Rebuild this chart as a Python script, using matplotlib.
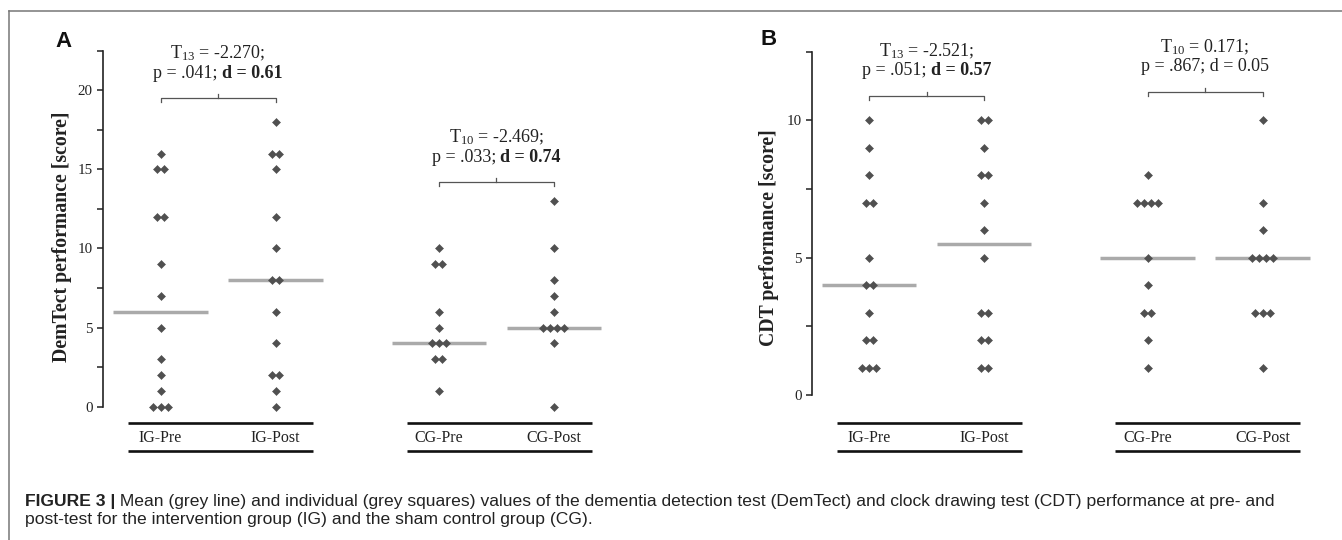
import numpy as np
import matplotlib
matplotlib.use("Agg")
import matplotlib.pyplot as plt
from matplotlib import transforms
from matplotlib.lines import Line2D

plt.rcParams['font.family'] = 'Liberation Serif'
plt.rcParams['mathtext.fontset'] = 'custom'
plt.rcParams['mathtext.rm'] = 'Liberation Serif'
plt.rcParams['mathtext.bf'] = 'Liberation Serif:bold'
plt.rcParams['mathtext.it'] = 'Liberation Serif:italic'

# ---- data (scores) ----
group_labels = ["IG-Pre", "IG-Post", "CG-Pre", "CG-Post"]

dem_ig_pre = [16, 15, 15, 12, 12, 9, 7, 5, 3, 2, 1, 0, 0, 0]
dem_ig_post = [18, 16, 16, 15, 12, 10, 8, 8, 6, 4, 2, 2, 1, 0]
dem_cg_pre = [10, 9, 9, 6, 5, 4, 4, 4, 3, 3, 1]
dem_cg_post = [13, 10, 8, 7, 6, 5, 5, 5, 5, 4, 0]

cdt_ig_pre = [10, 9, 8, 7, 7, 5, 4, 4, 3, 2, 2, 1, 1, 1]
cdt_ig_post = [10, 10, 9, 8, 8, 7, 6, 5, 3, 3, 2, 2, 1, 1]
cdt_cg_pre = [8, 7, 7, 7, 7, 5, 4, 3, 3, 2, 1]
cdt_cg_post = [10, 7, 6, 5, 5, 5, 5, 3, 3, 3, 1]

# (first line, second line regular part, second line bold part)
dem_stats = [("T$_{13}$ = -2.270;", "p = .041; ", "d = 0.61"),
             ("T$_{10}$ = -2.469;", "p = .033; ", "d = 0.74")]
cdt_stats = [("T$_{13}$ = -2.521;", "p = .051; ", "d = 0.57"),
             ("T$_{10}$ = 0.171;", "p = .867; d = 0.05", "")]

caption_bold = "FIGURE 3 |"
caption_1 = (" Mean (grey line) and individual (grey squares) values of the dementia detection test "
             "(DemTect) and clock drawing test (CDT) performance at pre- and")
caption_2 = "post-test for the intervention group (IG) and the sham control group (CG)."

# ---- layout ----
W, H = 1342, 540
POS = [1, 2, 3.42, 4.42]
XPX = 115.0  # pixels per x unit


def fx(px):
    return px / W


def fy(py):
    return 1 - py / H


def dodge(vals, x0, step=0.062):
    vals = np.asarray(vals, float)
    xs = np.empty(len(vals))
    for v in np.unique(vals):
        idx = np.where(vals == v)[0]
        n = len(idx)
        xs[idx] = x0 + (np.arange(n) - (n - 1) / 2) * step
    return xs, vals


fig = plt.figure(figsize=(W / 100, H / 100), dpi=100)
axA = fig.add_axes([fx(103), fy(406.7), 517.5 / W, (406.7 - 50.7) / H])
axB = fig.add_axes([fx(811.7), fy(395), 517.5 / W, (395 - 51.7) / H])

split_lines = []


def panel(ax, groups, ytop, stats, bracket_y):
    ax.set_xlim(0.5, 5.0)
    ax.set_ylim(0, ytop)
    for sp in ['top', 'right', 'bottom']:
        ax.spines[sp].set_visible(False)
    ax.spines['left'].set_linewidth(1.2)
    ax.spines['left'].set_color('#222222')
    ax.set_xticks([])
    ticks = np.arange(0, ytop + 0.01, 2.5)
    ax.set_yticks(ticks)
    ax.set_yticklabels([f"{v:g}" if v % 5 == 0 else "" for v in ticks])
    ax.tick_params(axis='y', length=4.3, width=1.1, labelsize=10.8, pad=3,
                   color='#222222', labelcolor='#222222')
    ax.patch.set_visible(False)

    for x0, vals in zip(POS, groups):
        ax.hlines(np.median(vals), x0 - 0.41, x0 + 0.41, color='#aaaaaa', lw=2.5, zorder=1)
        xs, ys = dodge(vals, x0)
        ax.plot(xs, ys, 'D', ms=3.6, color='#505050', mec='#505050', mew=0.4,
                zorder=2, clip_on=False, ls='none')

    # group bars and labels under the axis
    tr = transforms.blended_transform_factory(ax.transData, fig.transFigure)
    for a, b in [(0, 1), (2, 3)]:
        x1, x2 = POS[a] - 0.28, POS[b] + 0.33
        for yy in (fy(422.7), fy(450.7)):
            ax.plot([x1, x2], [yy, yy], transform=tr, color='#111111', lw=1.9,
                    clip_on=False, solid_capstyle='butt')
    for x0, lab in zip(POS, group_labels):
        ax.text(x0, fy(437.7), lab, transform=tr, ha='center', va='center',
                fontsize=11.5, color='#222222')

    # brackets with test statistics
    pxu = ax.get_position().height * H / ytop
    for (a, b), by, (l1, l2, l2b) in zip([(0, 1), (2, 3)], bracket_y, stats):
        xa, xb = POS[a], POS[b]
        mid = (xa + xb) / 2
        d = 4 / pxu
        ax.plot([xa, xa, xb, xb], [by - d, by, by, by - d], color='#555555', lw=0.9,
                clip_on=False)
        ax.plot([mid, mid], [by, by + d], color='#555555', lw=0.9, clip_on=False)
        ax.text(mid, by + 44.5 / pxu, l1, ha='center', va='center', fontsize=13,
                color='#222222')
        t_reg = ax.text(mid, by + 25 / pxu, l2, ha='left', va='center', fontsize=13,
                        color='#222222')
        t_bold = ax.annotate(l2b, xy=(1, 0), xycoords=t_reg, ha='left', va='bottom',
                             fontsize=13, fontweight='bold', color='#222222')
        split_lines.append((t_reg, t_bold, mid))


panel(axA, [dem_ig_pre, dem_ig_post, dem_cg_pre, dem_cg_post], 22.5, dem_stats, [19.5, 14.2])
panel(axB, [cdt_ig_pre, cdt_ig_post, cdt_cg_pre, cdt_cg_post], 12.5, cdt_stats, [10.9, 11.05])

# centre the two-part lines
renderer = fig.canvas.get_renderer()
for t_reg, t_bold, mid in split_lines:
    w = t_reg.get_window_extent(renderer).width
    if t_bold.get_text():
        w += t_bold.get_window_extent(renderer).width
    t_reg.set_x(mid - w / 2 / XPX)

fig.text(fx(61.7), fy(236.5), "DemTect performance [score]", rotation=90, ha='center',
         va='center', fontsize=14.2, fontweight='bold', color='#222222')
fig.text(fx(769), fy(238), "CDT performance [score]", rotation=90, ha='center',
         va='center', fontsize=14.2, fontweight='bold', color='#222222')

fig.text(fx(55), fy(47), "A", family='Liberation Sans', fontweight='bold', fontsize=16,
         ha='left', va='baseline', color='#111111')
fig.text(fx(760), fy(45), "B", family='Liberation Sans', fontweight='bold', fontsize=16,
         ha='left', va='baseline', color='#111111')

# frame
fig.add_artist(Line2D([fx(9.3), 1], [fy(10.7), fy(10.7)], transform=fig.transFigure,
                      color='#777777', lw=1.1))
fig.add_artist(Line2D([fx(9.3), fx(9.3)], [fy(10.7), 0], transform=fig.transFigure,
                      color='#777777', lw=1.1))

# caption
t1 = fig.text(fx(25), fy(506), caption_bold, family='Liberation Sans', fontweight='bold',
              fontsize=12.6, va='baseline', ha='left', color='#222222')
axA.annotate(caption_1, xy=(1, 0), xycoords=t1, va='bottom', ha='left',
             family='Liberation Sans', fontsize=12.6, color='#222222')
fig.text(fx(25), fy(524), caption_2, family='Liberation Sans', fontsize=12.6,
         va='baseline', ha='left', color='#222222')

fig.savefig("out.png", dpi=100)
